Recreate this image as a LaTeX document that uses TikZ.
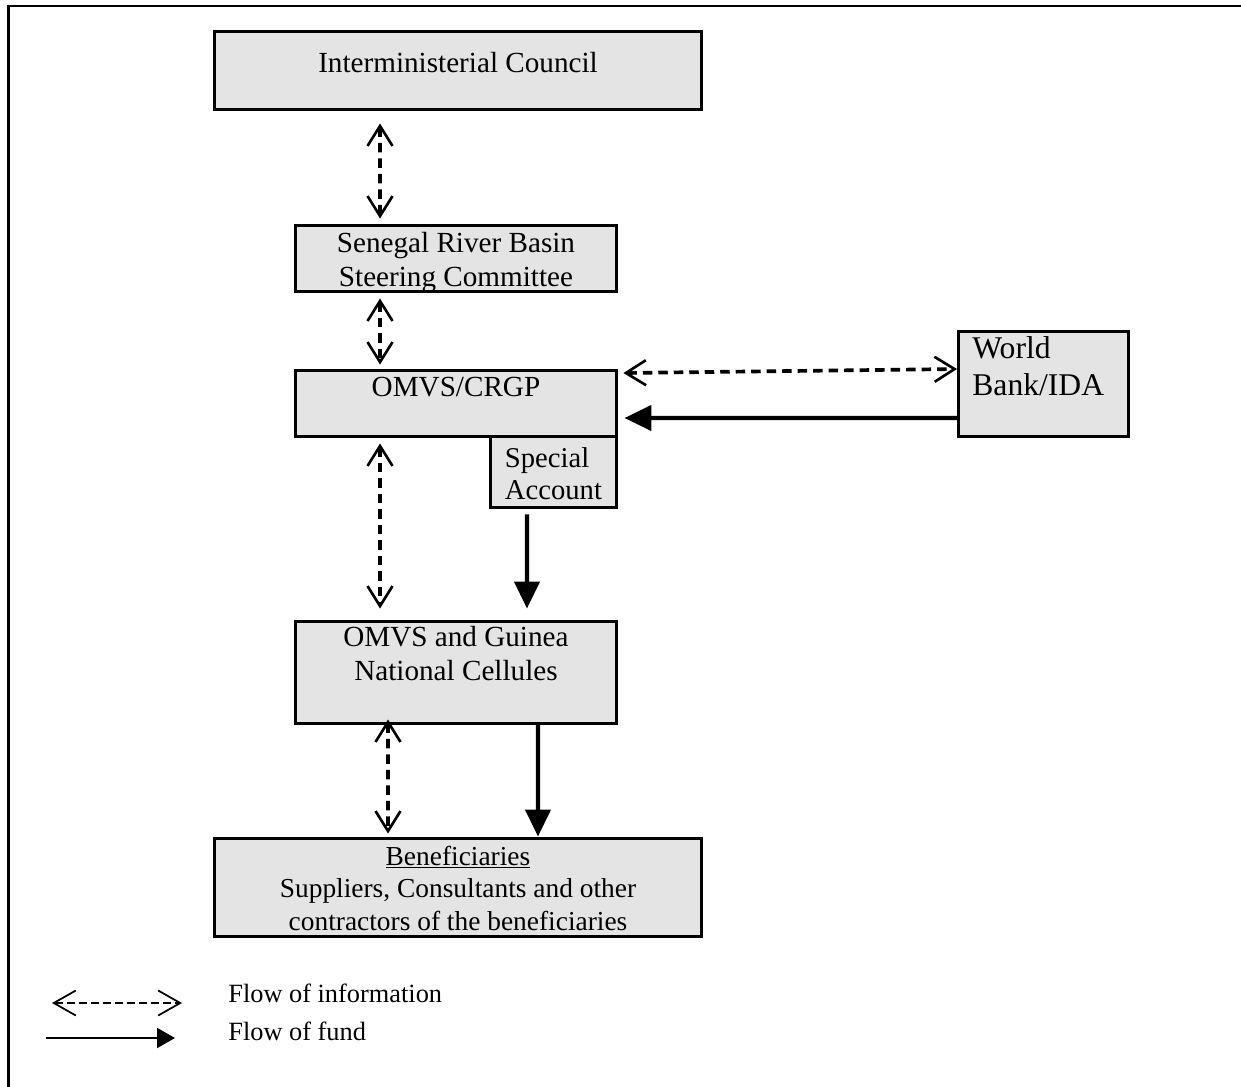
\documentclass[tikz,border=0pt]{standalone}
\usepackage{fontspec}
\setmainfont{Liberation Serif}
\usetikzlibrary{arrows.meta}
\usetikzlibrary{positioning}
\definecolor{boxgray}{RGB}{228,228,228}

\begin{document}
\begin{tikzpicture}[x=0.02cm,y=-0.02cm,
		boite/.style={rectangle,draw,line width=1.7pt,fill=boxgray,inner sep=0pt,text height=0pt,text depth=0pt,font=\fontsize{16.6}{19.4}\selectfont},
		info/.style={line width=2.1pt,dash pattern=on 0.19cm off 0.12cm,{Straight Barb[length=0.4cm,width=0.5cm,line width=1.5pt]}-{Straight Barb[length=0.4cm,width=0.5cm,line width=1.5pt]}},
		fonds/.style={line width=2.4pt,-{Triangle[length=0.54cm,width=0.5cm]}},
		legende/.style={anchor=west,inner sep=0pt,font=\fontsize{15}{18}\selectfont}]
	\useasboundingbox (0,0) rectangle (1241,1086);
	% cadre
	\draw[line width=1.5pt] (8.7,1100) -- (8.7,6) -- (1260,6);
	% description et nommage des boites
	\node (COUNCIL) at (458,70.5) [boite,minimum width=9.74cm,minimum height=1.56cm,text height=0.06cm] {\begin{tabular}[t]{c}Interministerial Council\end{tabular}};
	\node (COMMITTEE) at (456,258.5) [boite,minimum width=6.42cm,minimum height=1.32cm,text depth=0.26cm] {\begin{tabular}[t]{c}Senegal River Basin\\Steering Committee\end{tabular}};
	\node (CRGP) at (456,403.5) [boite,minimum width=6.42cm,minimum height=1.32cm,text depth=0.3cm] {\begin{tabular}[t]{c}OMVS/CRGP\end{tabular}};
	\node (SA) at (553.5,472) [boite,minimum width=2.52cm,minimum height=1.42cm,text depth=0.2cm,font=\fontsize{16.3}{18.4}\selectfont] {\begin{tabular}[t]{l}Special\\Account\end{tabular}};
	\node (WB) at (1043.5,384) [boite,minimum width=3.4cm,minimum height=2.1cm,text depth=1.04cm,font=\fontsize{18}{21.4}\selectfont] {\begin{tabular}[t]{l@{\hspace{12pt}}}World\\Bank/IDA\end{tabular}};
	\node (CELL) at (456,672.5) [boite,minimum width=6.42cm,minimum height=2.04cm,text depth=1.06cm] {\begin{tabular}[t]{c}OMVS and Guinea\\National Cellules\end{tabular}};
	\node (BENEF) at (458,887.5) [boite,minimum width=9.74cm,minimum height=1.96cm,text depth=0.9cm,font=\fontsize{15.6}{18.5}\selectfont] {\begin{tabular}[t]{c}\underline{Beneficiaries}\\Suppliers, Consultants and other\\contractors of the beneficiaries\end{tabular}};
	% flux d'information
	\draw[info] ([xshift=-1.56cm,yshift=-0.25cm]COUNCIL.south) -- ([xshift=-1.52cm,yshift=0.11cm]COMMITTEE.north);
	\draw[info] ([xshift=-1.52cm,yshift=-0.11cm]COMMITTEE.south) -- ([xshift=-1.52cm,yshift=0.09cm]CRGP.north);
	\draw[info] ([xshift=-1.52cm,yshift=-0.11cm]CRGP.south) -- ([xshift=-1.52cm,yshift=0.23cm]CELL.north);
	\draw[info] ([xshift=-1.36cm,yshift=0.11cm]CELL.south) -- ([xshift=-1.4cm,yshift=0.07cm]BENEF.north);
	\draw[info] ([xshift=0.11cm,yshift=0.61cm]CRGP.east) -- ([yshift=0.3cm]WB.west);
	% flux de fonds
	\draw[fonds] ([yshift=-0.68cm]WB.west) -- ([xshift=0.13cm,yshift=-0.29cm]CRGP.east);
	\draw[fonds] ([xshift=-0.53cm,yshift=-0.11cm]SA.south) -- ([xshift=1.42cm,yshift=0.23cm]CELL.north);
	\draw[fonds] ([xshift=1.64cm,yshift=0.03cm]CELL.south) -- ([xshift=1.6cm,yshift=0.01cm]BENEF.north);
	% legende
	\coordinate (INFOA) at (52,1003);
	\coordinate (INFOB) at (182,1003);
	\coordinate (FUNDA) at (46,1038);
	\coordinate (FUNDB) at (175,1038);
	\draw[line width=1pt,dash pattern=on 0.16cm off 0.08cm,{Straight Barb[length=0.44cm,width=0.5cm]}-{Straight Barb[length=0.44cm,width=0.5cm]}] (INFOA) -- (INFOB);
	\draw[line width=1.1pt,-{Triangle[length=0.36cm,width=0.4cm]}] (FUNDA) -- (FUNDB);
	\node (LINFO) at (228,993) [legende] {Flow of information};
	\node (LFUND) at (228,1031) [legende] {Flow of fund};
\end{tikzpicture}
\end{document}
